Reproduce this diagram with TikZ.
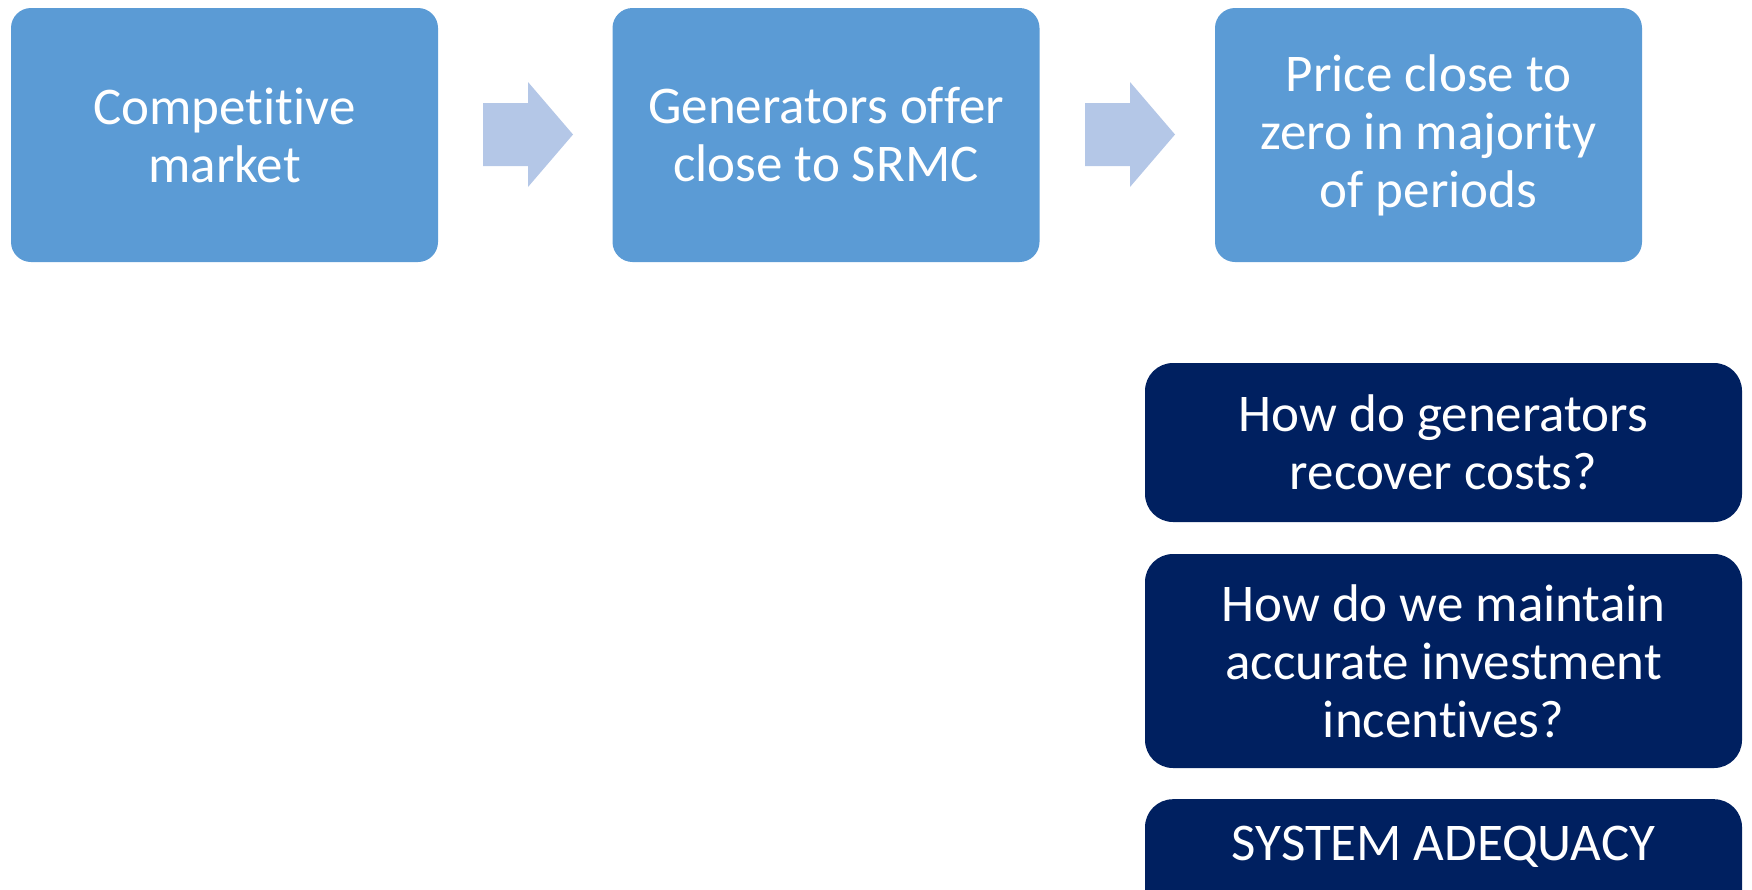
\documentclass[tikz,border=0pt]{standalone}
\usepackage{fontspec}
\setmainfont{Carlito}[Ligatures=NoCommon]
\definecolor{lightbox}{HTML}{5B9BD5}
\definecolor{arrowfill}{HTML}{B4C7E7}
\definecolor{darkbox}{HTML}{002060}
\begin{document}
\begin{tikzpicture}[x=1pt,y=-1pt,
  boxtext/.style={text=white,font=\fontsize{53}{58}\selectfont,align=center},
  lbox/.style={boxtext,fill=lightbox,rounded corners=20pt,minimum width=427pt,minimum height=254pt,inner sep=0pt},
  dbox/.style={boxtext,fill=darkbox,rounded corners=28pt,minimum width=597pt,inner sep=0pt},
  blockarrow/.style={fill=arrowfill}]
\useasboundingbox (0,0) rectangle (1752,889);
\clip (0,0) rectangle (1752,889);
\node[lbox] (b1) at (224.5,135) {Competitive\\market};
\node[lbox] (b2) at (826,135) {Generators of\kern0ptfer\\close to SRMC};
\node[lbox] (b3) at (1428.5,135) {Price close to\\zero in majority\\of periods};
\fill[blockarrow] (483,103) -- (528,103) -- (528,82) -- (573,134.5) -- (528,187) -- (528,166) -- (483,166) -- cycle;
\fill[blockarrow] (1085,103) -- (1130,103) -- (1130,82) -- (1175,134.5) -- (1130,187) -- (1130,166) -- (1085,166) -- cycle;
\node[dbox,minimum height=159pt] (q1) at (1443.5,442.5) {How do generators\\recover costs?};
\node[dbox,minimum height=214pt] (q2) at (1443.5,661) {How do we maintain\\accurate investment\\incentives?};
\node[dbox,minimum height=170pt,anchor=north] (q3) at (1443.5,799) {};
\node[boxtext] (q3t) at (1443.5,847) {SYSTEM ADEQUACY};
\end{tikzpicture}
\end{document}
